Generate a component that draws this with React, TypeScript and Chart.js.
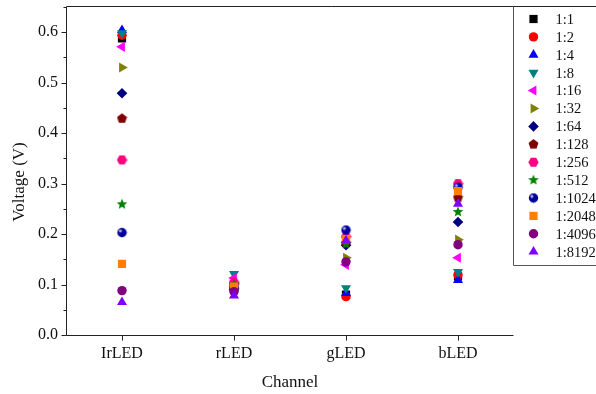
import React, { useEffect, useRef } from 'react';
import { Chart, registerables } from 'chart.js';
import { drawPoint } from 'chart.js/helpers';

Chart.register(...registerables);

const channels = ['IrLED', 'rLED', 'gLED', 'bLED'];
const ratioLabels = ['1:1', '1:2', '1:4', '1:8', '1:16', '1:32', '1:64', '1:128', '1:256', '1:512', '1:1024', '1:2048', '1:4096', '1:8192'];

const r1_1 = [0.588, 0.092, 0.080, 0.116];
const r1_2 = [0.594, 0.093, 0.076, 0.119];
const r1_4 = [0.604, 0.108, 0.083, 0.109];
const r1_8 = [0.598, 0.121, 0.093, 0.125];
const r1_16 = [0.571, 0.113, 0.139, 0.153];
const r1_32 = [0.530, 0.102, 0.153, 0.189];
const r1_64 = [0.479, 0.090, 0.178, 0.224];
const r1_128 = [0.429, 0.098, 0.182, 0.272];
const r1_256 = [0.347, 0.105, 0.195, 0.300];
const r1_512 = [0.259, 0.100, 0.180, 0.244];
const r1_1024 = [0.203, 0.093, 0.208, 0.293];
const r1_2048 = [0.141, 0.096, 0.190, 0.285];
const r1_4096 = [0.088, 0.086, 0.145, 0.179];
const r1_8192 = [0.065, 0.078, 0.187, 0.260];

const seriesValues = [r1_1, r1_2, r1_4, r1_8, r1_16, r1_32, r1_64, r1_128, r1_256, r1_512, r1_1024, r1_2048, r1_4096, r1_8192];

const yTickValues = [0, 0.1, 0.2, 0.3, 0.4, 0.5, 0.6];

const FONT = "'Liberation Serif', 'Times New Roman', serif";

function makeCanvas(size: number, draw: (c: CanvasRenderingContext2D, r: number) => void) {
  const cv = document.createElement('canvas');
  cv.width = size;
  cv.height = size;
  const c = cv.getContext('2d')!;
  c.translate(size / 2, size / 2);
  draw(c, size / 2);
  return cv;
}

function polygon(c: CanvasRenderingContext2D, n: number, r: number, color: string, rot = 0) {
  c.beginPath();
  for (let i = 0; i < n; i++) {
    const a = rot - Math.PI / 2 + (i * 2 * Math.PI) / n;
    const x = Math.cos(a) * r;
    const y = Math.sin(a) * r;
    if (i === 0) c.moveTo(x, y);
    else c.lineTo(x, y);
  }
  c.closePath();
  c.fillStyle = color;
  c.fill();
}

const pentagon = makeCanvas(11, (c) => polygon(c, 5, 5.2, '#800000'));
const hexagon = makeCanvas(11, (c) => polygon(c, 6, 5.2, '#FF0080', Math.PI / 6));
const star = makeCanvas(12, (c) => {
  c.beginPath();
  for (let i = 0; i < 10; i++) {
    const a = -Math.PI / 2 + (i * Math.PI) / 5;
    const r = i % 2 === 0 ? 5.6 : 2.4;
    const x = Math.cos(a) * r;
    const y = Math.sin(a) * r;
    if (i === 0) c.moveTo(x, y);
    else c.lineTo(x, y);
  }
  c.closePath();
  c.fillStyle = '#008000';
  c.fill();
});
const sphere = makeCanvas(11, (c) => {
  c.beginPath();
  c.arc(0, 0, 4.7, 0, Math.PI * 2);
  c.fillStyle = '#00009A';
  c.fill();
  const g = c.createRadialGradient(-1.6, -1.6, 0, -1.6, -1.6, 2.2);
  g.addColorStop(0, 'rgba(255,255,255,1)');
  g.addColorStop(1, 'rgba(255,255,255,0)');
  c.beginPath();
  c.arc(-1.6, -1.6, 2.2, 0, Math.PI * 2);
  c.fillStyle = g;
  c.fill();
});

const styles: { color: string; style: any; rotation: number; radius: number }[] = [
  { color: '#000000', style: 'rect', rotation: 0, radius: 5.8 },
  { color: '#FF0000', style: 'circle', rotation: 0, radius: 4.7 },
  { color: '#0000FF', style: 'triangle', rotation: 0, radius: 5.8 },
  { color: '#008080', style: 'triangle', rotation: 180, radius: 5.8 },
  { color: '#FF00FF', style: 'triangle', rotation: -90, radius: 5.8 },
  { color: '#808000', style: 'triangle', rotation: 90, radius: 5.8 },
  { color: '#000080', style: 'rectRot', rotation: 0, radius: 5.3 },
  { color: '#800000', style: pentagon, rotation: 0, radius: 5 },
  { color: '#FF0080', style: hexagon, rotation: 0, radius: 5 },
  { color: '#008000', style: star, rotation: 0, radius: 5 },
  { color: '#00009A', style: sphere, rotation: 0, radius: 5 },
  { color: '#FF8000', style: 'rect', rotation: 0, radius: 5.8 },
  { color: '#800080', style: 'circle', rotation: 0, radius: 4.7 },
  { color: '#8000FF', style: 'triangle', rotation: 0, radius: 5.8 },
];

const framePlugin = {
  id: 'frame',
  afterDraw(chart: any) {
    const ctx = chart.ctx as CanvasRenderingContext2D;
    const { left, right, top, bottom } = chart.chartArea;
    const W = chart.width;
    const ys = chart.scales.y;
    const xs = chart.scales.x;
    ctx.save();
    ctx.strokeStyle = '#222';
    ctx.lineWidth = 1;
    const L = Math.round(left) + 0.5;
    const B = Math.round(bottom) + 0.5;
    const T = Math.round(top) + 0.5;
    const R = Math.round(right) - 0.5;
    ctx.beginPath();
    ctx.moveTo(L, T);
    ctx.lineTo(L, B);
    ctx.lineTo(R, B);
    ctx.moveTo(L, T);
    ctx.lineTo(W, T);
    ctx.stroke();
    // y ticks (major + minor)
    ctx.beginPath();
    for (let v = 0; v <= 0.651; v += 0.05) {
      const isMajor = Math.round(v * 100) % 10 === 0;
      const py = Math.round(ys.getPixelForValue(v)) + 0.5;
      ctx.moveTo(L - (isMajor ? 5 : 3), py);
      ctx.lineTo(L, py);
    }
    // x ticks
    channels.forEach((_, i) => {
      const px = Math.round(xs.getPixelForValue(i)) + 0.5;
      ctx.moveTo(px, B);
      ctx.lineTo(px, B + 5);
    });
    ctx.stroke();

    // y title
    ctx.save();
    ctx.translate(20, 182);
    ctx.rotate(-Math.PI / 2);
    ctx.font = `17px ${FONT}`;
    ctx.fillStyle = '#111';
    ctx.textAlign = 'center';
    ctx.textBaseline = 'middle';
    ctx.fillText('Voltage (V)', 0, 0);
    ctx.restore();

    // legend box
    const boxLeft = R;
    const boxBottom = Math.round(top + 259) + 0.5;
    ctx.strokeStyle = '#555';
    ctx.beginPath();
    ctx.moveTo(boxLeft, T);
    ctx.lineTo(boxLeft, boxBottom);
    ctx.lineTo(W, boxBottom);
    ctx.stroke();

    ctx.font = `14.5px ${FONT}`;
    ctx.textBaseline = 'middle';
    ctx.textAlign = 'left';
    chart.data.datasets.forEach((ds: any, i: number) => {
      const y = top + 13 + i * 17.9;
      ctx.fillStyle = ds.backgroundColor;
      ctx.strokeStyle = ds.backgroundColor;
      drawPoint(ctx, { pointStyle: ds.pointStyle, rotation: ds.pointRotation, radius: ds.pointRadius, borderWidth: 0 } as any, boxLeft + 20, y);
      ctx.fillStyle = '#111';
      ctx.fillText(ds.label, boxLeft + 42, y + 1);
    });
    ctx.restore();
  },
};

export default function App() {
  const ref = useRef<HTMLCanvasElement>(null);
  useEffect(() => {
    document.body.style.margin = '0';
    const datasets = ratioLabels.map((label, i) => ({
      label,
      data: seriesValues[i],
      showLine: false,
      pointStyle: styles[i].style,
      pointRotation: styles[i].rotation,
      pointRadius: styles[i].radius,
      pointHoverRadius: styles[i].radius,
      backgroundColor: styles[i].color,
      borderColor: styles[i].color,
      pointBorderWidth: 0,
      borderWidth: 0,
      order: ratioLabels.length - i,
    }));
    const chart = new Chart(ref.current!, {
      type: 'line',
      data: { labels: channels, datasets },
      plugins: [framePlugin],
      options: {
        animation: false,
        responsive: false,
        devicePixelRatio: 1,
        layout: { padding: { top: 6, right: 82, left: 0, bottom: 0 } },
        plugins: { legend: { display: false }, tooltip: { enabled: false } },
        scales: {
          x: {
            type: 'category',
            offset: true,
            grid: { display: false, drawTicks: false },
            border: { display: false },
            ticks: { color: '#111', font: { family: FONT, size: 16 }, padding: 9 },
            title: { display: true, text: 'Channel', color: '#111', font: { family: FONT, size: 17 }, padding: { top: 4, bottom: 1 } },
            afterFit: (s: any) => { s.height = 59; s.paddingLeft = 0; s.paddingRight = 0; },
          },
          y: {
            type: 'linear',
            min: 0,
            max: 0.652,
            afterBuildTicks: (s: any) => { s.ticks = yTickValues.map((v) => ({ value: v })); },
            grid: { display: false, drawTicks: false },
            border: { display: false },
            ticks: {
              color: '#111',
              font: { family: FONT, size: 16 },
              padding: 8,
              callback: (v: any) => Number(v).toFixed(1),
            },
            title: { display: false },
            afterFit: (s: any) => { s.width = 66; s.paddingTop = 0; s.paddingBottom = 0; },
          },
        },
      },
    });
    return () => chart.destroy();
  }, []);
  return <canvas ref={ref} width={596} height={394} style={{ display: 'block' }} />;
}
